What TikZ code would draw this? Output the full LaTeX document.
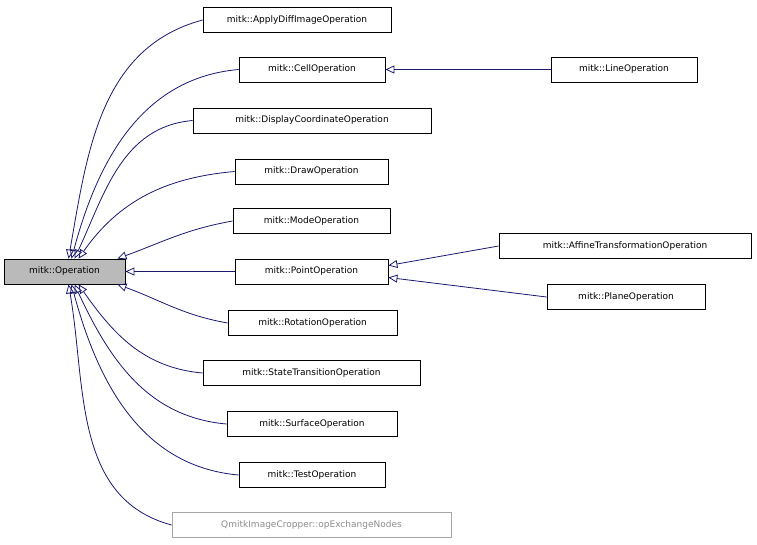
\documentclass[tikz,border=0pt]{standalone}
\usepackage{fontspec}
\setmainfont{DejaVu Sans}
\usetikzlibrary{arrows.meta,calc}
\definecolor{navy}{RGB}{25,25,112}
\begin{document}
\begin{tikzpicture}[x=1pt,y=-1pt,
  box/.style={draw=black,line width=0.8pt,minimum height=25pt,inner sep=0pt,font=\fontsize{9}{10}\selectfont},
  arr/.style={navy,line width=0.8pt,{Triangle[open,length=9pt,width=8pt]}-}]
\useasboundingbox (0,0) rectangle (757,544);
\node[box,fill=black!27,minimum width=121pt] (op) at (64.5,271.5) {mitk::Operation};
\node[box,minimum width=188pt] (apply) at (297,20) {mitk::ApplyDiffImageOperation};
\node[box,minimum width=146pt] (cell) at (312,69.5) {mitk::CellOperation};
\node[box,minimum width=146pt] (line) at (624,69.5) {mitk::LineOperation};
\node[box,minimum width=238pt] (disp) at (312,120.5) {mitk::DisplayCoordinateOperation};
\node[box,minimum width=153pt] (draw) at (311.5,171.5) {mitk::DrawOperation};
\node[box,minimum width=157pt] (mode) at (311.5,221) {mitk::ModeOperation};
\node[box,minimum width=153pt] (point) at (311.5,271.5) {mitk::PointOperation};
\node[box,minimum width=252pt] (aff) at (625,246) {mitk::AffineTransformationOperation};
\node[box,minimum width=158pt] (plane) at (626,297) {mitk::PlaneOperation};
\node[box,minimum width=169pt] (rot) at (312.5,323) {mitk::RotationOperation};
\node[box,minimum width=217pt] (state) at (311.5,373) {mitk::StateTransitionOperation};
\node[box,minimum width=170pt] (surf) at (312,424) {mitk::SurfaceOperation};
\node[box,minimum width=146pt] (test) at (312,475) {mitk::TestOperation};
\node[box,draw=black!35,text=black!45,minimum width=279pt] (qm) at (311.5,525) {QmitkImageCropper::opExchangeNodes};
\draw[arr] ($(op.north)+(4,0)$) to[out=80,in=195] (apply.west);
\draw[arr] ($(op.north)+(7,0)$) to[out=75,in=185] (cell.west);
\draw[arr] ($(op.north)+(10,0)$) to[out=65,in=185] (disp.west);
\draw[arr] ($(op.north)+(14,0)$) to[out=55,in=185] (draw.west);
\draw[arr] ($(op.north east)+(-8,0)$) to[out=20,in=190] (mode.west);
\draw[arr] (op.east) -- (point.west);
\draw[arr] ($(op.south east)+(-8,0)$) to[out=-20,in=170] (rot.west);
\draw[arr] ($(op.south)+(14,0)$) to[out=-55,in=175] (state.west);
\draw[arr] ($(op.south)+(10,0)$) to[out=-65,in=175] (surf.west);
\draw[arr] ($(op.south)+(7,0)$) to[out=-75,in=175] (test.west);
\draw[arr] ($(op.south)+(4,0)$) to[out=-80,in=165] (qm.west);
\draw[arr] (cell.east) -- (line.west);
\draw[arr] ($(point.east)+(0,-6)$) -- (aff.west);
\draw[arr] ($(point.east)+(0,6)$) -- (plane.west);
\end{tikzpicture}
\end{document}
